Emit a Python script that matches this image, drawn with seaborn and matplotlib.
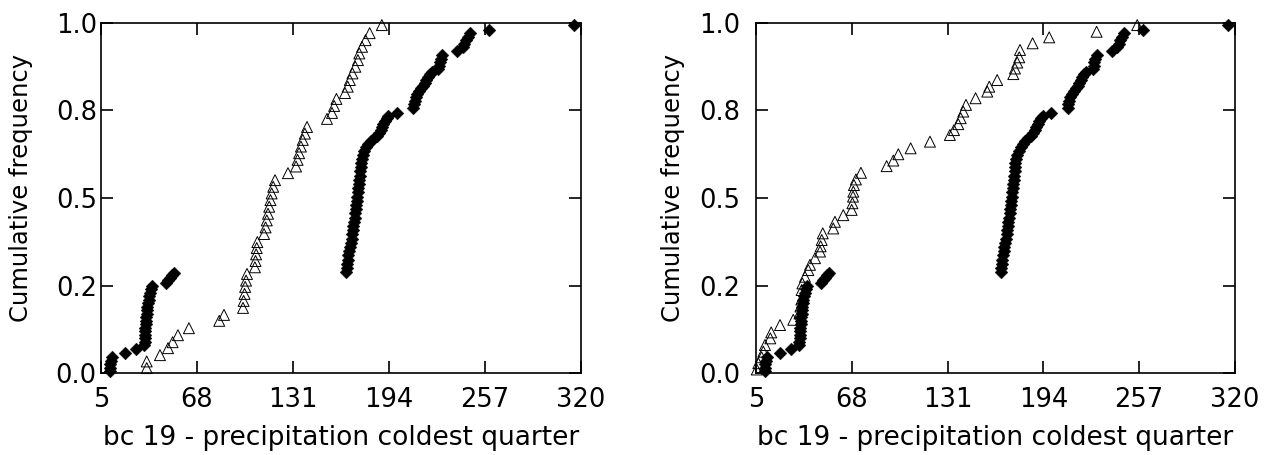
import pandas as pd
import matplotlib
matplotlib.use("Agg")
import matplotlib.pyplot as plt
import seaborn as sns
from matplotlib.ticker import FormatStrFormatter

# diamonds (same group in both panels)
diamond_x = [10.9, 10.9, 11.2, 11.6, 12.2, 20.7, 27.8,
             33.4, 33.6, 33.8, 34.0, 34.1, 34.2, 34.4, 34.6, 34.8, 35.0, 35.2, 35.5, 35.8, 36.2, 36.7, 37.3, 38.0, 38.5,
             47.6, 49.0, 50.3, 51.8, 53.1,
             165.8, 166.2, 166.6, 166.9, 167.3, 167.8, 168.3, 168.8, 169.4, 169.9, 170.3, 170.7, 171.0, 171.4, 171.8,
             172.2, 172.6, 172.9, 173.2, 173.5, 173.8, 174.1, 174.4, 174.7, 175.0, 175.3, 175.6, 176.0, 176.8, 177.8,
             179.0, 180.5, 182.2, 184.0, 185.8, 187.3, 188.5, 189.4, 190.3, 191.3, 192.4, 193.6,
             199.0,
             210.0, 210.4, 210.9, 211.6, 212.6, 214.0, 215.3, 216.5, 217.6, 218.6, 219.7, 220.8, 222.0,
             226.4, 227.0, 227.6, 228.2, 229.0,
             238.9,
             242.4, 243.5, 244.6, 245.8, 247.0,
             259.8, 315.6]
diamond_y = [0.005, 0.015, 0.025, 0.035, 0.045, 0.056, 0.068,
             0.080, 0.090, 0.100, 0.110, 0.120, 0.130, 0.140, 0.150, 0.160, 0.170, 0.180, 0.190, 0.200, 0.210, 0.220, 0.230, 0.240, 0.248,
             0.258, 0.265, 0.272, 0.279, 0.285,
             0.290, 0.300, 0.312, 0.324, 0.336, 0.348, 0.360, 0.372, 0.384, 0.396, 0.408, 0.420, 0.432, 0.444, 0.456,
             0.468, 0.480, 0.492, 0.504, 0.516, 0.528, 0.540, 0.552, 0.564, 0.576, 0.588, 0.600, 0.612, 0.624, 0.635,
             0.645, 0.654, 0.662, 0.670, 0.677, 0.685, 0.694, 0.703, 0.712, 0.720, 0.728, 0.735,
             0.744,
             0.758, 0.768, 0.778, 0.788, 0.797, 0.805, 0.813, 0.821, 0.829, 0.837, 0.845, 0.853, 0.860,
             0.868, 0.878, 0.888, 0.898, 0.908,
             0.920,
             0.930, 0.940, 0.950, 0.960, 0.970,
             0.980, 0.994]

# open triangles, left panel
tri_left_x = [35.0, 35.0, 43.7, 49.0, 52.0, 55.5, 62.7, 82.6, 85.7,
              98.2, 98.6, 99.2, 99.6, 100.2, 100.8,
              106.0, 106.4, 106.8, 107.2, 107.6,
              112.0, 113.0, 113.8, 114.6, 115.4, 116.2, 117.0, 118.0, 119.2,
              127.7,
              133.0, 134.0, 135.0, 136.2, 137.4, 138.8, 140.2,
              153.3,
              156.6, 158.0, 159.5,
              165.1, 166.9, 168.3, 170.0, 171.9, 173.6, 174.5, 176.3, 178.6, 181.3, 189.3]
tri_left_y = [0.014, 0.033, 0.051, 0.071, 0.088, 0.108, 0.128, 0.149, 0.166,
              0.186, 0.206, 0.226, 0.246, 0.264, 0.283,
              0.302, 0.320, 0.339, 0.357, 0.374,
              0.397, 0.416, 0.436, 0.455, 0.475, 0.494, 0.513, 0.532, 0.551,
              0.571,
              0.590, 0.609, 0.628, 0.647, 0.666, 0.684, 0.703,
              0.726,
              0.743, 0.763, 0.783,
              0.800, 0.818, 0.837, 0.856, 0.875, 0.894, 0.913, 0.932, 0.951, 0.971, 0.994]

# open triangles, right panel
tri_right_x = [5.5, 6.5, 8.7, 9.8, 10.9, 14.4, 15.0, 20.8, 29.5, 33.6, 34.2, 34.8, 35.0, 35.5, 37.2, 39.4,
               40.5, 43.8, 47.1, 47.5, 48.2, 48.9, 55.8, 56.9, 62.4, 67.9, 68.4, 68.8, 69.0, 69.4, 70.7, 74.0,
               90.9, 95.3, 98.6, 106.7, 119.4, 132.5, 135.2, 138.0, 139.6, 141.3, 143.1, 149.4, 157.1, 158.4,
               163.6, 174.2, 175.3, 176.8, 178.1, 178.6, 186.9, 197.8, 229.0, 255.7]
tri_right_y = [0.010, 0.028, 0.045, 0.061, 0.080, 0.099, 0.116, 0.137, 0.152, 0.170, 0.190, 0.210, 0.237, 0.256, 0.275, 0.294,
               0.309, 0.328, 0.347, 0.362, 0.380, 0.399, 0.413, 0.432, 0.451, 0.466, 0.485, 0.504, 0.518, 0.537, 0.553, 0.572,
               0.591, 0.607, 0.625, 0.642, 0.661, 0.680, 0.694, 0.711, 0.728, 0.747, 0.766, 0.785, 0.804, 0.818,
               0.837, 0.854, 0.870, 0.887, 0.902, 0.923, 0.942, 0.959, 0.975, 0.994]

x_ticks = [5, 68, 131, 194, 257, 320]
y_ticks = [0.0, 0.25, 0.5, 0.75, 1.0]
x_label = "bc 19 - precipitation coldest quarter"
y_label = "Cumulative frequency"

sns.set_style("ticks")
plt.rcParams['font.family'] = ['DejaVu Sans']
plt.rcParams['text.color'] = 'black'
plt.rcParams['axes.labelcolor'] = 'black'
plt.rcParams['xtick.color'] = 'black'
plt.rcParams['ytick.color'] = 'black'

fig = plt.figure(figsize=(12.66, 4.55), dpi=100)
ax_left = fig.add_axes([101 / 1266, 1 - 373 / 455, 480 / 1266, 350 / 455])
ax_right = fig.add_axes([756 / 1266, 1 - 373 / 455, 479 / 1266, 350 / 455])

diamonds = pd.DataFrame({'x': diamond_x, 'y': diamond_y})
panels = [
    (ax_left, pd.DataFrame({'x': tri_left_x, 'y': tri_left_y}), 3, -0.142),
    (ax_right, pd.DataFrame({'x': tri_right_x, 'y': tri_right_y}), 11, -0.148),
]

for ax, tri, ypad, lab_x in panels:
    sns.scatterplot(data=tri, x='x', y='y', marker='^', s=62, color='black',
                    facecolor='none', edgecolor='black', linewidth=0.7,
                    clip_on=False, zorder=3, ax=ax)
    sns.scatterplot(data=diamonds, x='x', y='y', marker='D', s=42, color='black',
                    edgecolor='black', linewidth=0.3, clip_on=False, zorder=4, ax=ax)

    ax.set_xlim(5, 320)
    ax.set_ylim(0, 1)
    ax.set_xticks(x_ticks)
    ax.set_yticks(y_ticks)
    ax.yaxis.set_major_formatter(FormatStrFormatter('%.1f'))
    ax.tick_params(direction='in', top=True, right=True, length=8.5, width=1.2,
                   labelsize=18.5)
    ax.tick_params(axis='x', pad=10)
    ax.tick_params(axis='y', pad=ypad)
    for sp in ax.spines.values():
        sp.set_linewidth(1.2)
        sp.set_color('black')
    ax.set_xlabel(x_label, fontsize=19, labelpad=9)
    ax.set_ylabel(y_label, fontsize=17.5)
    ax.yaxis.set_label_coords(lab_x, 0.53)

plt.savefig("out.png", dpi=100)
